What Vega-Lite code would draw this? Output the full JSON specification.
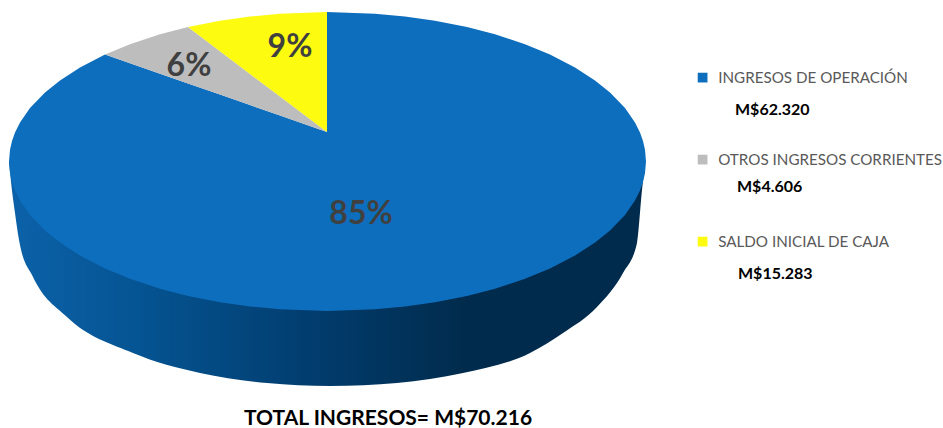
{
"$schema":"https://vega.github.io/schema/vega-lite/v6.json",
"width":943,"height":428,"padding":0,"autosize":"none",
"background":"white",
"config":{"view":{"stroke":null}},
"title":{"text":"TOTAL INGRESOS= M$70.216","orient":"bottom","anchor":"start","dx":244,"offset":-20,"font":"Lato","fontSize":21,"fontWeight":"bold","color":"#000000"},
"datasets":{
"wall":[
{"x":9,"y":161.5,"y2":161.5},{"x":10,"y":161.5,"y2":172},{"x":15,"y":161.5,"y2":213},{"x":20,"y":161.5,"y2":245},{"x":33,"y":161.5,"y2":277},{"x":67,"y":161.5,"y2":317},{"x":133,"y":161.5,"y2":353},{"x":200,"y":161.5,"y2":373},{"x":267,"y":161.5,"y2":383},{"x":330,"y":161.5,"y2":386},{"x":397,"y":161.5,"y2":383},{"x":463,"y":161.5,"y2":373},{"x":530,"y":161.5,"y2":353},{"x":563,"y":161.5,"y2":333},{"x":597,"y":161.5,"y2":307},{"x":623,"y":161.5,"y2":273},{"x":637,"y":161.5,"y2":243},{"x":642,"y":161.5,"y2":190},{"x":645,"y":161.5,"y2":163}
],
"top":[
{"slice":"INGRESOS DE OPERACIÓN","x":9,"y":161.5,"y2":161.5},
{"slice":"INGRESOS DE OPERACIÓN","x":10,"y":149.7,"y2":173.3},
{"slice":"INGRESOS DE OPERACIÓN","x":12,"y":141,"y2":182},
{"slice":"INGRESOS DE OPERACIÓN","x":15,"y":132.6,"y2":190.4},
{"slice":"INGRESOS DE OPERACIÓN","x":20,"y":122.5,"y2":200.5},
{"slice":"INGRESOS DE OPERACIÓN","x":30,"y":108.1,"y2":214.9},
{"slice":"INGRESOS DE OPERACIÓN","x":45,"y":92.5,"y2":230.5},
{"slice":"INGRESOS DE OPERACIÓN","x":60,"y":80.4,"y2":242.6},
{"slice":"INGRESOS DE OPERACIÓN","x":80,"y":67.4,"y2":255.6},
{"slice":"INGRESOS DE OPERACIÓN","x":105,"y":54.5,"y2":268.5},
{"slice":"INGRESOS DE OPERACIÓN","x":130,"y":63.2,"y2":278.8},
{"slice":"INGRESOS DE OPERACIÓN","x":160,"y":73.7,"y2":288.7},
{"slice":"INGRESOS DE OPERACIÓN","x":188,"y":83.5,"y2":295.9},
{"slice":"INGRESOS DE OPERACIÓN","x":220,"y":94.6,"y2":302.2},
{"slice":"INGRESOS DE OPERACIÓN","x":250,"y":105.1,"y2":306.5},
{"slice":"INGRESOS DE OPERACIÓN","x":280,"y":115.6,"y2":309.3},
{"slice":"INGRESOS DE OPERACIÓN","x":327,"y":132,"y2":311},
{"slice":"INGRESOS DE OPERACIÓN","x":327.01,"y":12,"y2":311},
{"slice":"INGRESOS DE OPERACIÓN","x":375,"y":13.7,"y2":309.3},
{"slice":"INGRESOS DE OPERACIÓN","x":405,"y":16.5,"y2":306.5},
{"slice":"INGRESOS DE OPERACIÓN","x":435,"y":20.8,"y2":302.2},
{"slice":"INGRESOS DE OPERACIÓN","x":467,"y":27.1,"y2":295.9},
{"slice":"INGRESOS DE OPERACIÓN","x":495,"y":34.3,"y2":288.7},
{"slice":"INGRESOS DE OPERACIÓN","x":525,"y":44.2,"y2":278.8},
{"slice":"INGRESOS DE OPERACIÓN","x":550,"y":54.5,"y2":268.5},
{"slice":"INGRESOS DE OPERACIÓN","x":575,"y":67.4,"y2":255.6},
{"slice":"INGRESOS DE OPERACIÓN","x":595,"y":80.4,"y2":242.6},
{"slice":"INGRESOS DE OPERACIÓN","x":610,"y":92.5,"y2":230.5},
{"slice":"INGRESOS DE OPERACIÓN","x":625,"y":108.1,"y2":214.9},
{"slice":"INGRESOS DE OPERACIÓN","x":635,"y":122.5,"y2":200.5},
{"slice":"INGRESOS DE OPERACIÓN","x":640,"y":132.6,"y2":190.4},
{"slice":"INGRESOS DE OPERACIÓN","x":643,"y":141,"y2":182},
{"slice":"INGRESOS DE OPERACIÓN","x":645,"y":149.7,"y2":173.3},
{"slice":"INGRESOS DE OPERACIÓN","x":646,"y":161.5,"y2":161.5},
{"slice":"OTROS INGRESOS CORRIENTES","x":105,"y":54.5,"y2":54.5},
{"slice":"OTROS INGRESOS CORRIENTES","x":130,"y":44.2,"y2":63.2},
{"slice":"OTROS INGRESOS CORRIENTES","x":160,"y":34.3,"y2":73.7},
{"slice":"OTROS INGRESOS CORRIENTES","x":188,"y":27.1,"y2":83.5},
{"slice":"OTROS INGRESOS CORRIENTES","x":220,"y":51.3,"y2":94.6},
{"slice":"OTROS INGRESOS CORRIENTES","x":250,"y":73.9,"y2":105.1},
{"slice":"OTROS INGRESOS CORRIENTES","x":280,"y":96.5,"y2":115.6},
{"slice":"OTROS INGRESOS CORRIENTES","x":327,"y":132,"y2":132},
{"slice":"SALDO INICIAL DE CAJA","x":188,"y":27.1,"y2":27.1},
{"slice":"SALDO INICIAL DE CAJA","x":220,"y":20.8,"y2":51.3},
{"slice":"SALDO INICIAL DE CAJA","x":250,"y":16.5,"y2":73.9},
{"slice":"SALDO INICIAL DE CAJA","x":280,"y":13.7,"y2":96.5},
{"slice":"SALDO INICIAL DE CAJA","x":327,"y":12,"y2":132}
],
"slices":[
{"name":"INGRESOS DE OPERACIÓN","pct":85,"pctLabel":"85%","amount":62320,"amountLabel":"M$62.320"},
{"name":"OTROS INGRESOS CORRIENTES","pct":6,"pctLabel":"6%","amount":4606,"amountLabel":"M$4.606"},
{"name":"SALDO INICIAL DE CAJA","pct":9,"pctLabel":"9%","amount":15283,"amountLabel":"M$15.283"}
]},
"layer":[
{"data":{"name":"wall"},
 "mark":{"type":"area","interpolate":"monotone","color":{"gradient":"linear","x1":0,"y1":0,"x2":1,"y2":0,"stops":[{"offset":0,"color":"#0c62a9"},{"offset":0.2,"color":"#055493"},{"offset":0.5,"color":"#013b6b"},{"offset":0.72,"color":"#012b4c"},{"offset":1,"color":"#012b4c"}]}},
 "encoding":{
  "x":{"field":"x","type":"quantitative","scale":{"domain":[0,943],"nice":false,"zero":false},"axis":null},
  "y":{"field":"y","type":"quantitative","stack":null,"scale":{"domain":[428,0],"nice":false,"zero":false},"axis":null},
  "y2":{"field":"y2"}}},
{"data":{"name":"top"},
 "mark":{"type":"area"},
 "encoding":{
  "x":{"field":"x","type":"quantitative","scale":{"domain":[0,943],"nice":false,"zero":false},"axis":null},
  "y":{"field":"y","type":"quantitative","stack":null,"scale":{"domain":[428,0],"nice":false,"zero":false},"axis":null},
  "y2":{"field":"y2"},
  "color":{"field":"slice","type":"nominal","scale":{"domain":["INGRESOS DE OPERACIÓN","OTROS INGRESOS CORRIENTES","SALDO INICIAL DE CAJA"],"range":["#0e6ebe","#bdbdbd","#fdfb10"]},
   "legend":{"orient":"none","legendX":695,"legendY":70,"title":null,"symbolType":"square","symbolSize":95,"symbolStrokeWidth":0,"labelFont":"Lato","labelFontSize":15.2,"labelColor":"#595959","labelOffset":8,"rowPadding":66,"labelLimit":300}}}},
{"data":{"name":"slices"},
 "mark":{"type":"text","font":"Lato","fontWeight":"bold","fontSize":32,"color":"#404040","align":"center","baseline":"middle"},
 "encoding":{
  "x":{"field":"pct","type":"quantitative","scale":{"domain":[6,9,85],"range":[189,290,361]},"axis":null},
  "y":{"field":"pct","type":"quantitative","scale":{"domain":[6,9,85],"range":[66,47,214]},"axis":null},
  "text":{"field":"pctLabel"}}},
{"data":{"name":"slices"},
 "mark":{"type":"text","font":"Lato","fontWeight":"bold","fontSize":16,"color":"#000000","align":"left","baseline":"middle"},
 "encoding":{
  "x":{"field":"amount","type":"quantitative","scale":{"domain":[4606,15283,62320],"range":[737,738,735]},"axis":null},
  "y":{"field":"amount","type":"quantitative","scale":{"domain":[4606,15283,62320],"range":[187,274,110]},"axis":null},
  "text":{"field":"amountLabel"}}}
],
"resolve":{"scale":{"x":"independent","y":"independent"}}
}
